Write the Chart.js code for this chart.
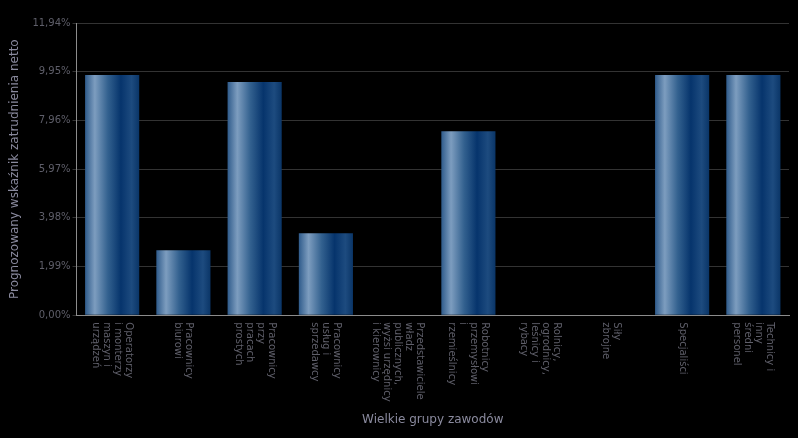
<!DOCTYPE html>
<html>
<head>
<meta charset="utf-8">
<script src="https://cdn.jsdelivr.net/npm/chart.js@4/dist/chart.umd.min.js"></script>
<style>
  html, body { margin: 0; padding: 0; background: #000; }
  #wrap { width: 798px; height: 438px; }
</style>
</head>
<body>
<div id="wrap"><canvas id="groupsChart"></canvas></div>
<script>
const categories = [
  ['Operatorzy', 'i monterzy', 'maszyn i', 'urządzeń'],
  ['Pracownicy', 'biurowi'],
  ['Pracownicy', 'przy', 'pracach', 'prostych'],
  ['Pracownicy', 'usług i', 'sprzedawcy'],
  ['Przedstawiciele', 'władz', 'publicznych,', 'wyżsi urzędnicy', 'i kierownicy'],
  ['Robotnicy', 'przemysłowi', 'i', 'rzemieślnicy'],
  ['Rolnicy,', 'ogrodnicy,', 'leśnicy i', 'rybacy'],
  ['Siły', 'zbrojne'],
  ['Specjaliści'],
  ['Technicy i', 'inny', 'średni', 'personel']
];
const values = [9.82, 2.66, 9.53, 3.35, 0, 7.52, 0, 0, 9.82, 9.82];
const yTicks = [0, 1.99, 3.98, 5.97, 7.96, 9.95, 11.94];

const colorText  = '#5f5f6a';
const colorTitle = '#8a8a9e';
const colorGrid  = '#333333';
const colorAxis  = '#8c8c8c';
const barPct = 0.76;

function barGradient(context) {
  const chart = context.chart;
  const area = chart.chartArea;
  const xs = chart.scales.x;
  if (!area || !xs) return '#1f4f86';
  const x = xs.getPixelForTick(context.dataIndex);
  const half = (area.width / categories.length) * barPct / 2;
  const g = chart.ctx.createLinearGradient(x - half, 0, x + half, 0);
  g.addColorStop(0, '#2f5b8b');
  g.addColorStop(0.18, '#7d9dbf');
  g.addColorStop(0.42, '#33618f');
  g.addColorStop(0.66, '#06346c');
  g.addColorStop(0.86, '#1d4b7f');
  g.addColorStop(1, '#0a3567');
  return g;
}

// x labels read top-to-bottom, so they are drawn by hand at the scale's tick positions
const rotatedLabels = {
  id: 'rotatedLabels',
  afterDraw(chart) {
    const xs = chart.scales.x;
    const ctx = chart.ctx;
    const lh = 11;
    ctx.save();
    ctx.fillStyle = colorText;
    ctx.font = '10px "DejaVu Sans"';
    ctx.textAlign = 'left';
    ctx.textBaseline = 'middle';
    categories.forEach((lines, i) => {
      const x = xs.getPixelForTick(i);
      ctx.save();
      ctx.translate(x, xs.top + 7);
      ctx.rotate(Math.PI / 2);
      lines.forEach((line, j) => {
        ctx.fillText(line, 0, (j - (lines.length - 1) / 2) * lh);
      });
      ctx.restore();
    });
    ctx.restore();
  }
};

new Chart(document.getElementById('groupsChart'), {
  type: 'bar',
  data: {
    labels: categories,
    datasets: [{
      data: values,
      backgroundColor: barGradient,
      borderWidth: 0,
      barPercentage: barPct,
      categoryPercentage: 1
    }]
  },
  options: {
    responsive: true,
    maintainAspectRatio: false,
    animation: false,
    layout: { padding: { top: 23, right: 9, left: 8, bottom: 11 } },
    plugins: { legend: { display: false }, tooltip: { enabled: false } },
    scales: {
      x: {
        grid: { display: false },
        border: { color: colorAxis },
        afterFit: (s) => { s.paddingLeft = 0; s.paddingRight = 0; },
        ticks: {
          color: 'rgba(0,0,0,0)',
          font: { family: 'DejaVu Sans', size: 10 },
          minRotation: 90,
          maxRotation: 90,
          autoSkip: false
        },
        title: {
          display: true,
          text: 'Wielkie grupy zawodów',
          color: colorTitle,
          font: { family: 'DejaVu Sans', size: 12 },
          padding: { top: 4, bottom: 0 }
        }
      },
      y: {
        min: 0,
        max: 11.94,
        afterBuildTicks: (scale) => { scale.ticks = yTicks.map(v => ({ value: v })); },
        grid: { color: colorGrid, tickLength: 4 },
        border: { color: colorAxis },
        ticks: {
          color: colorText,
          font: { family: 'DejaVu Sans', size: 10 },
          padding: 2,
          callback: (v) => v.toFixed(2).replace('.', ',') + '%'
        },
        title: {
          display: true,
          text: 'Prognozowany wskaźnik zatrudnienia netto',
          color: colorTitle,
          font: { family: 'DejaVu Sans', size: 12 },
          padding: { top: 0, bottom: 8 }
        }
      }
    }
  },
  plugins: [rotatedLabels]
});
</script>
</body>
</html>
